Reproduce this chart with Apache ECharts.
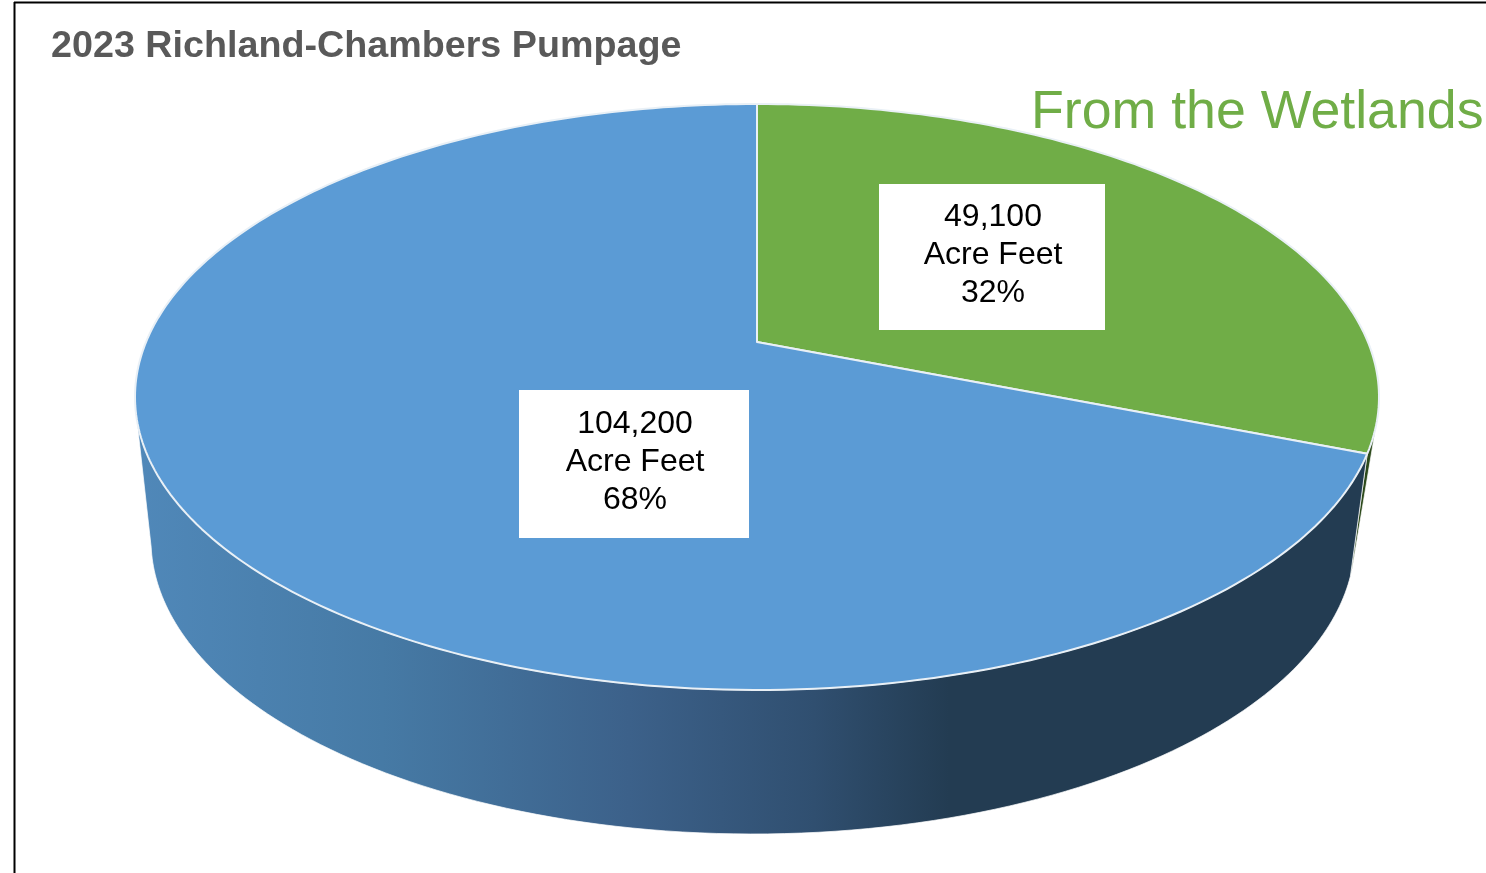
<!DOCTYPE html>
<html>
<head>
<meta charset="utf-8">
<style>html,body{margin:0;padding:0;background:#fff}#c{width:1486px;height:873px}</style>
<script src="https://cdn.jsdelivr.net/npm/echarts@6/dist/echarts.min.js"></script>
</head>
<body>
<div id="c"></div>
<script>
const titleText = '2023 Richland-Chambers Pumpage';
const subtitleText = 'From the Wetlands';
const categories = ['From the Wetlands', 'Other sources'];
const values = [49100, 104200];
const unitLabel = 'Acre Feet';
const topColors = ['#70ad47', '#5b9bd5'];

const total = values.reduce((a, b) => a + b, 0);
const TOP = {cx: 757, cy: 397, a: 622, b: 293, k: -0.1877, warp: 0.084};
const BOT = {cx: 753, cy: 540, a: 602, b: 294, k: -0.1877, warp: 0.172};
const VIS_FROM = 109 * Math.PI / 180, VIS_TO = 252 * Math.PI / 180;
const VIS_BOT_FROM = 113 * Math.PI / 180;
const LABEL_BOX = [
  {x: 879, y: 184, w: 226, h: 146},
  {x: 519, y: 390, w: 230, h: 148}
];

function project(phi, e) {
  const t = phi + e.warp * Math.sin(2 * phi);
  const u = Math.sin(t), v = -Math.cos(t);
  const q = Math.sqrt(1 - e.k * e.k);
  const w = 1 + e.k * v;
  return [e.cx + e.a * q * u / w, e.cy + e.b * e.k + e.b * q * q * v / w];
}
function arc(from, to, e) {
  const n = Math.max(2, Math.ceil(Math.abs(to - from) / (Math.PI / 180)));
  const pts = [];
  for (let i = 0; i <= n; i++) pts.push(project(from + (to - from) * i / n, e));
  return pts;
}

const sideFills = [
  '#2d4a1c',
  {type: 'linear', x: 0, y: 0, x2: 1, y2: 0, colorStops: [
    {offset: 0, color: '#5088b9'},
    {offset: 0.2, color: '#467aa5'},
    {offset: 0.4, color: '#3c618a'},
    {offset: 0.55, color: '#304f70'},
    {offset: 0.66, color: '#233c52'},
    {offset: 1, color: '#233c52'}
  ]}
];

function renderItem(params, api) {
  const idx = params.dataIndex;
  let before = 0;
  for (let i = 0; i < idx; i++) before += values[i];
  const val = api.value(0);
  const start = before / total * 2 * Math.PI;
  const end = (before + val) / total * 2 * Math.PI;
  const children = [];

  const sFrom = Math.max(start, VIS_FROM), sTo = Math.min(end, VIS_TO);
  const bFrom = Math.max(start, VIS_BOT_FROM);
  if (sTo > sFrom) {
    const pts = arc(sFrom, sTo, TOP).concat(arc(sTo, bFrom, BOT));
    children.push({
      type: 'polygon', shape: {points: pts},
      style: {fill: sideFills[idx], stroke: 'rgba(255,255,255,0.7)', lineWidth: 1}
    });
  }
  const apex = [TOP.cx, TOP.cy + TOP.b * TOP.k];
  const topPts = [apex].concat(arc(start, end, TOP));
  children.push({
    type: 'polygon', shape: {points: topPts},
    style: {fill: topColors[idx], stroke: '#e9f0f6', lineWidth: 2, lineJoin: 'round'}
  });

  const box = LABEL_BOX[idx];
  children.push({
    type: 'rect', z2: 50, shape: {x: box.x, y: box.y, width: box.w, height: box.h},
    style: {fill: '#ffffff'}
  });
  const pct = Math.round(val / total * 100);
  children.push({
    type: 'text', z2: 51,
    style: {
      x: box.x + box.w / 2 + 1, y: box.y + box.h / 2 - 2,
      text: val.toLocaleString('en-US') + '\n' + unitLabel + '\n' + pct + '%',
      align: 'center', verticalAlign: 'middle',
      font: '32px "Liberation Sans", Arial, sans-serif', lineHeight: 38, fill: '#000000'
    }
  });
  return {type: 'group', children};
}

const chart = echarts.init(document.getElementById('c'), null, {renderer: 'canvas'});
chart.setOption({
  animation: false,
  backgroundColor: '#ffffff',
  title: [
    {text: titleText, left: 51, top: 28, padding: 0,
     textStyle: {fontFamily: '"Liberation Sans", Arial, sans-serif', fontWeight: 'bold', fontSize: 37.7, color: '#595959'}},
    {text: subtitleText, left: 1031, top: 86, padding: 0,
     textStyle: {fontFamily: '"Liberation Sans", Arial, sans-serif', fontWeight: 'normal', fontSize: 53.7, color: '#70ad47'}}
  ],
  graphic: [
    {type: 'line', z: 100, shape: {x1: 14, y1: 2.5, x2: 1486, y2: 2.5}, style: {stroke: '#000', lineWidth: 2}},
    {type: 'line', z: 100, shape: {x1: 14.5, y1: 2, x2: 14.5, y2: 873}, style: {stroke: '#000', lineWidth: 2}}
  ],
  series: [{
    type: 'custom',
    coordinateSystem: 'none',
    renderItem,
    silent: true,
    data: categories.map((name, i) => ({name, value: [values[i]]}))
  }]
});
</script>
</body>
</html>
